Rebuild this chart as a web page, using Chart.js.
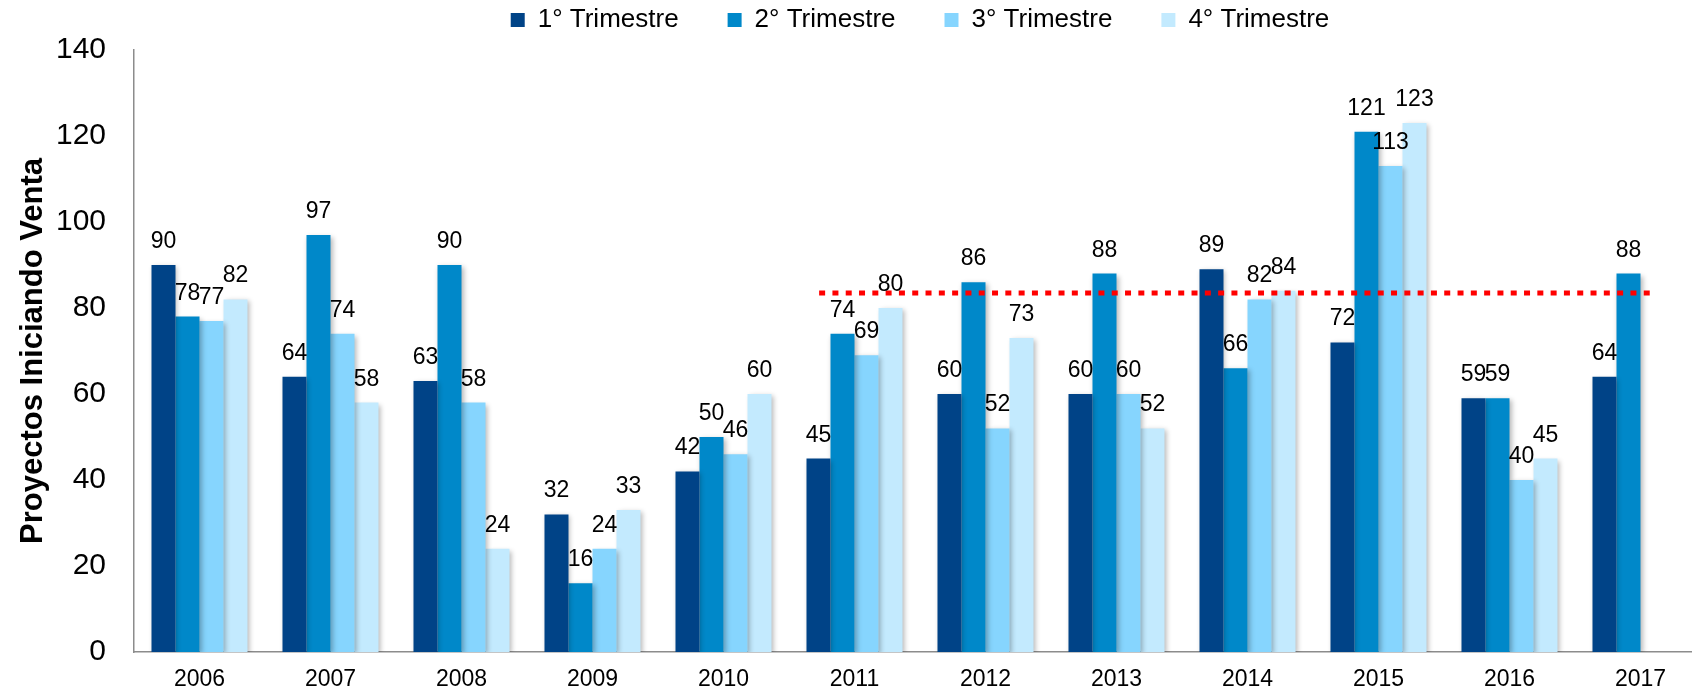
<!DOCTYPE html>
<html lang="es">
<head>
<meta charset="utf-8">
<title>Proyectos Iniciando Venta</title>
<script src="https://cdn.jsdelivr.net/npm/chart.js@4.4.1/dist/chart.umd.min.js"></script>
<style>
  html, body { margin: 0; padding: 0; overflow: hidden; background: #fff; width: 1692px; height: 694px; }
  /* el area del grafico sigue un poco mas alla del borde derecho, como en el original */
  .grafico { position: absolute; left: 0; top: -42px; width: 1706px; height: 740px; }
</style>
</head>
<body>
<div class="grafico"><canvas id="chart"></canvas></div>
<script>
// datos del grafico
const anios = ['2006', '2007', '2008', '2009', '2010', '2011', '2012', '2013', '2014', '2015', '2016', '2017']
const trim1 = [90, 64, 63, 32, 42, 45, 60, 60, 89, 72, 59, 64]
const trim2 = [78, 97, 90, 16, 50, 74, 86, 88, 66, 121, 59, 88]
const trim3 = [77, 74, 58, 24, 46, 69, 52, 60, 82, 113, 40, null]
const trim4 = [82, 58, 24, 33, 60, 80, 73, 52, 84, 123, 45, null]
const ticksY = [0, 20, 40, 60, 80, 100, 120, 140]

// linea roja punteada (promedio): desde / hasta en posiciones de categoria
const lineaDesde = 4.73
const lineaHasta = 11.09
const lineaValor = 83.5

const fuente = '"Liberation Sans", Arial, sans-serif'

// linea roja + etiquetas con el valor encima de cada barra
const etiquetas = {
    id: 'etiquetas',
    afterDatasetsDraw(chart) {
        const ctx = chart.ctx
        const x = chart.scales.x
        const y = chart.scales.y

        ctx.save()
        ctx.strokeStyle = '#FF0000'
        ctx.lineWidth = 5
        ctx.lineCap = 'butt'
        ctx.setLineDash([6, 7.3])
        ctx.beginPath()
        ctx.moveTo(x.getPixelForValue(lineaDesde), y.getPixelForValue(lineaValor))
        ctx.lineTo(x.getPixelForValue(lineaHasta), y.getPixelForValue(lineaValor))
        ctx.stroke()
        ctx.restore()

        ctx.save()
        ctx.font = '23px ' + fuente
        ctx.fillStyle = '#000'
        ctx.textAlign = 'center'
        ctx.textBaseline = 'alphabetic'
        chart.data.datasets.forEach((ds, i) => {
            chart.getDatasetMeta(i).data.forEach((barra, j) => {
                const v = ds.data[j]
                if (v === null || v === undefined) return
                ctx.fillText(v, barra.x, barra.y - 17)
            })
        })
        ctx.restore()
    }
}

// sombra suave de las barras
const sombra = {
    id: 'sombra',
    beforeDatasetDraw(chart) {
        const ctx = chart.ctx
        ctx.save()
        ctx.shadowColor = 'rgba(0, 0, 0, 0.28)'
        ctx.shadowBlur = 5
        ctx.shadowOffsetX = 2
        ctx.shadowOffsetY = 2
    },
    afterDatasetDraw(chart) {
        chart.ctx.restore()
    }
}

// un poco mas de espacio debajo de la leyenda
const espacioLeyenda = {
    id: 'espacioLeyenda',
    beforeInit(chart) {
        const fitOriginal = chart.legend.fit
        chart.legend.fit = function () {
            fitOriginal.bind(chart.legend)()
            this.height += 7
        }
    }
}

const barra = (label, data, color) => ({
    label: label,
    data: data,
    backgroundColor: color,
    borderWidth: 0
})

new Chart(document.getElementById('chart'), {
    type: 'bar',
    data: {
        labels: anios,
        datasets: [
            barra('1° Trimestre', trim1, '#004387'),
            barra('2° Trimestre', trim2, '#0088C9'),
            barra('3° Trimestre', trim3, '#86D5FE'),
            barra('4° Trimestre', trim4, '#C3EAFE')
        ]
    },
    options: {
        responsive: true,
        maintainAspectRatio: false,
        animation: false,
        layout: { padding: 0 },
        datasets: {
            bar: { categoryPercentage: 0.733, barPercentage: 1 }
        },
        plugins: {
            legend: {
                position: 'top',
                fullSize: false,
                labels: {
                    boxWidth: 14,
                    boxHeight: 14,
                    padding: 49,
                    color: '#000',
                    font: { family: fuente, size: 26 }
                }
            },
            tooltip: { enabled: false }
        },
        scales: {
            x: {
                grid: { display: false, drawTicks: false },
                border: { display: true, color: '#8c8c8c', width: 1.5 },
                ticks: { color: '#000', padding: 14, font: { family: fuente, size: 23 } },
                afterFit: scale => { scale.height = 43 }
            },
            y: {
                min: 0,
                max: 140,
                afterBuildTicks: scale => { scale.ticks = ticksY.map(v => ({ value: v })) },
                grid: { display: false, drawTicks: false },
                border: { display: true, color: '#8c8c8c', width: 1.5 },
                ticks: { color: '#000', padding: 28, font: { family: fuente, size: 30 } },
                title: {
                    display: true,
                    text: 'Proyectos Iniciando Venta',
                    color: '#000',
                    padding: { top: 15, bottom: 0 },
                    font: { family: fuente, size: 31, weight: 'bold' }
                },
                afterFit: scale => { scale.width = 134 }
            }
        }
    },
    plugins: [etiquetas, sombra, espacioLeyenda]
})
</script>
</body>
</html>
